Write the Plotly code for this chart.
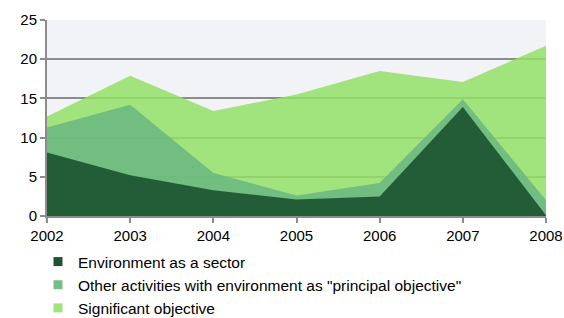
import plotly.graph_objects as go

years = [2002, 2003, 2004, 2005, 2006, 2007, 2008]
sector = [8.1, 5.2, 3.3, 2.1, 2.5, 13.9, 0.1]
principal = [11.3, 14.2, 5.5, 2.6, 4.2, 14.9, 2.0]
significant = [12.7, 17.9, 13.4, 15.5, 18.5, 17.1, 21.7]

names = ["Environment as a sector",
         "Other activities with environment as \"principal objective\"",
         "Significant objective"]
fills = ["#225d38", "rgba(106,182,129,0.85)", "rgba(147,223,102,0.85)"]
legend_cols = ["#1e5230", "#74bf83", "#a3e37e"]

W, H = 564, 318

fig = go.Figure()
series = [significant, principal, sector]
order = [2, 1, 0]
for idx, vals in zip(order, series):
    fig.add_trace(go.Scatter(x=years, y=vals, mode="lines", fill="tozeroy",
                             fillcolor=fills[idx], line=dict(width=0, color=fills[idx]),
                             showlegend=False, hoverinfo="x+y", name=names[idx]))
for i in range(3):
    fig.add_trace(go.Scatter(x=[None], y=[None], mode="markers", name=names[i],
                             marker=dict(symbol="square", size=9, color=legend_cols[i]),
                             showlegend=True))

fig.update_layout(
    width=W, height=H,
    margin=dict(l=47, r=18, t=20, b=102, autoexpand=False),
    paper_bgcolor="white", plot_bgcolor="#f2f3f7",
    font=dict(family="Liberation Sans, Arial, sans-serif", size=15, color="#000"),
    showlegend=True,
    legend=dict(xref="container", yref="container", x=38 / W, xanchor="left",
                y=1 - 245 / H, yanchor="top", orientation="v",
                font=dict(size=15.5), tracegroupgap=0, itemwidth=30,
                bgcolor="rgba(0,0,0,0)"),
)
fig.update_xaxes(range=[2002, 2008], tickmode="array", tickvals=years,
                 ticktext=[str(y) for y in years], showgrid=False,
                 showline=True, linecolor="#8c8c8c", linewidth=2,
                 ticks="outside", ticklen=5, tickcolor="#8c8c8c", tickwidth=2,
                 zeroline=False, fixedrange=True)
fig.update_yaxes(range=[0, 25], tickvals=[0, 5, 10, 15, 20, 25], showgrid=True,
                 gridcolor="#8c8c8c", gridwidth=2, showline=True, linecolor="#8c8c8c",
                 linewidth=2, ticks="outside", ticklen=5, tickcolor="#8c8c8c", tickwidth=2,
                 zeroline=False, fixedrange=True)

fig.write_html("out.html",
               config={"displayModeBar": False},
               post_script="document.body.style.margin='0';"
                           "document.documentElement.style.overflow='hidden';")
